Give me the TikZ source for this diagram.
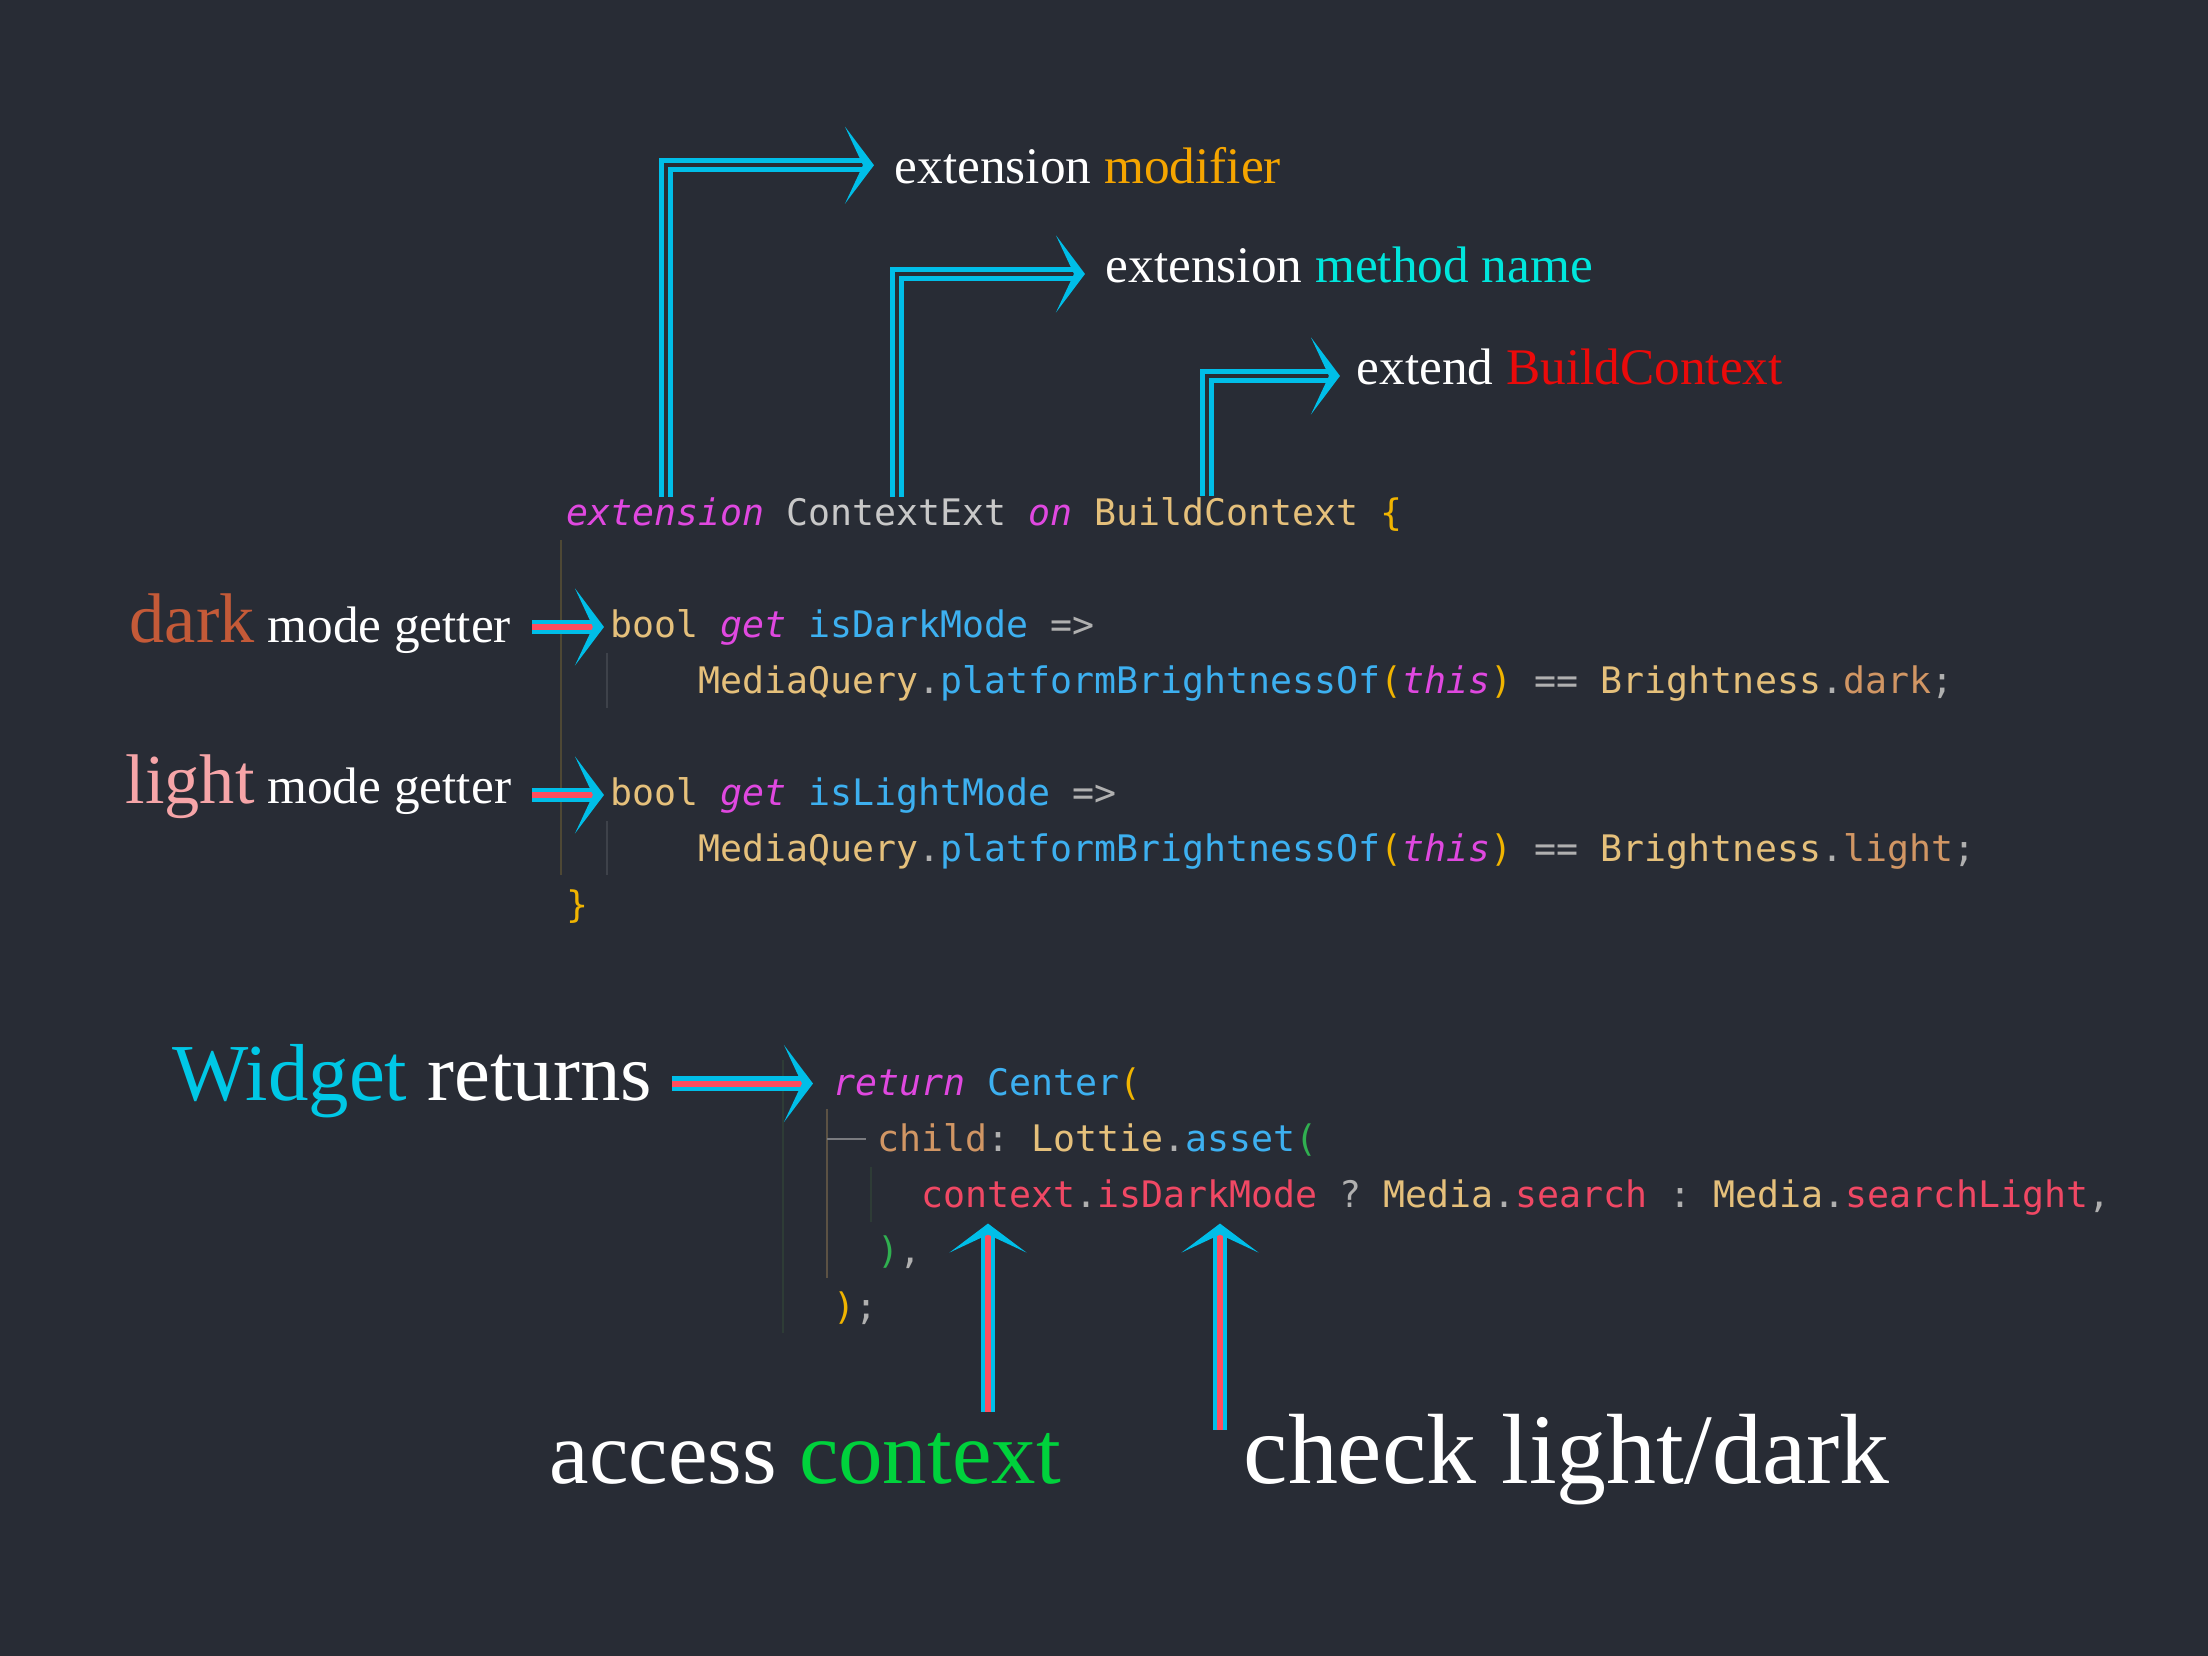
\documentclass[tikz,border=0pt]{standalone}
\usepackage{fontspec}
\setmainfont{Liberation Serif}
\newfontfamily\codefont{DejaVu Sans Mono}
\usetikzlibrary{arrows.meta}
\definecolor{bgc}{RGB}{40,44,53}
\definecolor{arrcyan}{RGB}{0,190,232}
\definecolor{arrred}{RGB}{255,77,94}
\definecolor{modorange}{RGB}{245,165,0}
\definecolor{methcyan}{RGB}{0,230,220}
\definecolor{bcred}{RGB}{235,10,10}
\definecolor{darkc}{RGB}{196,90,56}
\definecolor{lightc}{RGB}{246,165,168}
\definecolor{widgetc}{RGB}{0,200,230}
\definecolor{ctxgreen}{RGB}{0,210,60}
\definecolor{kwmag}{RGB}{224,72,224}
\definecolor{typtan}{RGB}{229,192,123}
\definecolor{fnblue}{RGB}{61,176,240}
\definecolor{pugrey}{RGB}{176,176,176}
\definecolor{extgrey}{RGB}{200,200,200}
\definecolor{brgold}{RGB}{240,180,0}
\definecolor{prorange}{RGB}{209,150,100}
\definecolor{tokred}{RGB}{240,72,100}
\definecolor{tokgreen}{RGB}{48,176,80}
\definecolor{guideolive}{RGB}{78,72,52}
\definecolor{guidegrey}{RGB}{62,66,74}
\definecolor{guidegreen}{RGB}{46,60,54}
\definecolor{guidebrown}{RGB}{92,82,68}
\newcommand{\tkw}[1]{\textcolor{kwmag}{\itshape #1}}
\newcommand{\tty}[1]{\textcolor{typtan}{#1}}
\newcommand{\tfn}[1]{\textcolor{fnblue}{#1}}
\newcommand{\tpu}[1]{\textcolor{pugrey}{#1}}
\newcommand{\tbr}[1]{\textcolor{brgold}{#1}}
\newcommand{\tpr}[1]{\textcolor{prorange}{#1}}
\newcommand{\tre}[1]{\textcolor{tokred}{#1}}
\newcommand{\tgr}[1]{\textcolor{tokgreen}{#1}}
\frenchspacing
\begin{document}
\begin{tikzpicture}[scale=0.2,
  code/.style={font=\codefont\fontsize{10.4}{12}\selectfont, anchor=base west},
  note/.style={font=\fontsize{14.6}{17}\selectfont, text=white, anchor=base west},
  bluearr/.style={draw=arrcyan, double=bgc, line width=1.4pt, double distance=1.1pt,
    -{Stealth[length=2.9mm,width=7.7mm,inset=1.8mm]}},
  redarr/.style={bluearr, double=arrred, line width=1.25pt, double distance=1.7pt}]
\tikzstyle{every node}+=[inner sep=0pt]
\useasboundingbox (0,0) rectangle (110.4,-82.8);
\fill [bgc] (0,0) rectangle (110.4,-82.8);
% indent guides
\draw [guideolive, line width=0.6pt] (28.05,-27) -- (28.05,-43.75);
\draw [guidegrey, line width=0.6pt] (30.35,-32.65) -- (30.35,-35.4);
\draw [guidegrey, line width=0.6pt] (30.35,-41.05) -- (30.35,-43.75);
\draw [guidegreen, line width=0.6pt] (39.15,-53) -- (39.15,-66.65);
\draw [guidebrown, line width=0.6pt] (41.35,-55.45) -- (41.35,-63.9);
\draw [pugrey!60!bgc, line width=0.6pt] (41.35,-56.95) -- (43.3,-56.95);
\draw [guidegreen, line width=0.6pt] (43.55,-58.35) -- (43.55,-61.1);
% extension block
\node [code] (kwext) at (28.3,-26.25) {\tkw{extension}};
\node [code] (ctxext) at (39.3,-26.25) {\textcolor{extgrey}{ContextExt}};
\node [code] (kwon) at (51.4,-26.25) {\tkw{on}};
\node [code] (bctx) at (54.7,-26.25) {\tty{BuildContext}};
\node [code] (lbrace) at (69.0,-26.25) {\tbr{\{}};
\node [code] (code2) at (30.5,-31.85) {\tty{bool} \tkw{get} \tfn{isDarkMode} \tpu{=>}};
\node [code] (code3) at (34.9,-34.65) {\tty{MediaQuery}\tpu{.}\tfn{platformBrightnessOf}\tbr{(}\tkw{this}\tbr{)} \tpu{==} \tty{Brightness}\tpu{.}\tpr{dark}\tpu{;}};
\node [code] (code4) at (30.5,-40.25) {\tty{bool} \tkw{get} \tfn{isLightMode} \tpu{=>}};
\node [code] (code5) at (34.9,-43.05) {\tty{MediaQuery}\tpu{.}\tfn{platformBrightnessOf}\tbr{(}\tkw{this}\tbr{)} \tpu{==} \tty{Brightness}\tpu{.}\tpr{light}\tpu{;}};
\node [code] (rbrace) at (28.3,-45.85) {\tbr{\}}};
% widget block
\node [code] (codeb1) at (41.65,-54.75) {\tkw{return} \tfn{Center}\tbr{(}};
\node [code] (codeb2) at (43.85,-57.55) {\tpr{child}\tpu{:} \tty{Lottie}\tpu{.}\tfn{asset}\tgr{(}};
\node [code] (codeb3) at (46.05,-60.35) {\tre{context}\tpu{.}\tre{isDarkMode} \tpu{?} \tty{Media}\tpu{.}\tre{search} \tpu{:} \tty{Media}\tpu{.}\tre{searchLight}\tpu{,}};
\node [code] (codeb4) at (43.85,-63.15) {\tgr{)}\tpu{,}};
\node [code] (codeb5) at (41.65,-65.95) {\tbr{)}\tpu{;}};
% labels
\node [note] (lblmod) at (44.7,-9.15) {extension \textcolor{modorange}{modifier}};
\node [note] (lblmeth) at (55.25,-14.1) {extension \textcolor{methcyan}{method name}};
\node [note] (lblbc) at (67.8,-19.2) {extend \textcolor{bcred}{BuildContext}};
\node [note] (lbldark) at (6.45,-32.1) {{\fontsize{20}{24}\selectfont\color{darkc}dark} mode getter};
\node [note] (lbllight) at (6.25,-40.15) {{\fontsize{20}{24}\selectfont\color{lightc}light} mode getter};
\node [note, font=\fontsize{23}{27}\selectfont] (lblwid) at (8.6,-55.0) {\textcolor{widgetc}{Widget} returns};
\node [note, font=\fontsize{25.3}{30}\selectfont] (lblacc) at (27.45,-74.15) {access \textcolor{ctxgreen}{context}};
\node [note, font=\fontsize{28.4}{34}\selectfont] (lblchk) at (62.15,-74.15) {check light/dark};
% arrows
\draw [bluearr, shorten >=0.2cm] (kwext.north) |- (lblmod.west);
\draw [bluearr, shorten >=0.2cm] (ctxext.north) |- (lblmeth.mid west);
\draw [bluearr, shorten >=0.16cm] (60.35,0 |- bctx.north) |- (lblbc.mid west);
\draw [redarr, shorten <=0.2cm, shorten >=0.06cm] (lbldark.east |- code2.west) -- (code2.west);
\draw [redarr, shorten <=0.2cm, shorten >=0.06cm] (lbllight.east |- code4.west) -- (code4.west);
\draw [redarr, shorten <=0.19cm, shorten >=0.2cm] (lblwid.east |- codeb1.west) -- (codeb1.west);
\coordinate (acctail) at (49.4,-70.6);
\coordinate (chktail) at (61.0,-71.5);
\draw [redarr, shorten >=0.08cm] (acctail) -- (acctail |- codeb3.south);
\draw [redarr, shorten >=0.08cm] (chktail) -- (chktail |- codeb3.south);
\end{tikzpicture}
\end{document}
